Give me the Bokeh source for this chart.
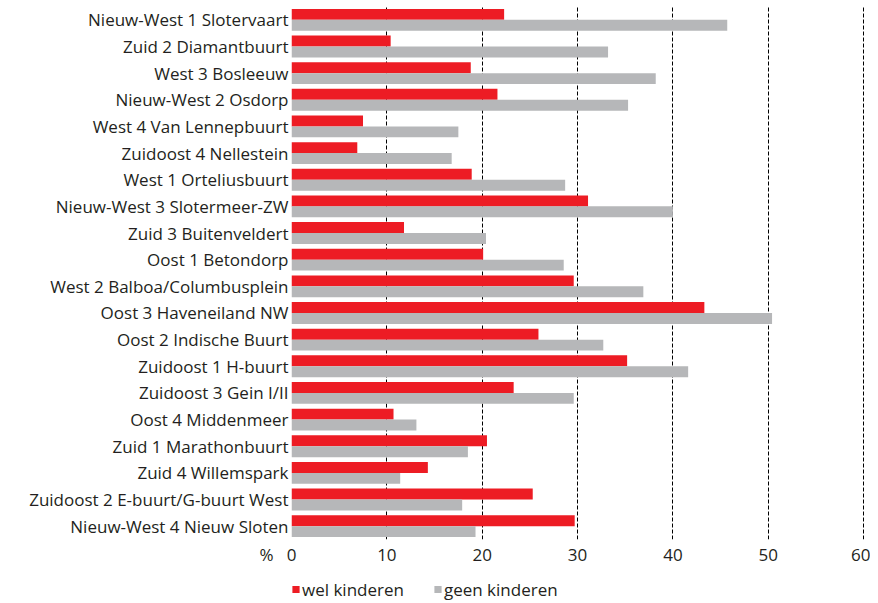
from bokeh.plotting import figure
from bokeh.layouts import column
from bokeh.models import FactorRange, Range1d, FixedTicker, Legend, LegendItem, Title, ColumnDataSource
from bokeh.transform import dodge
from bokeh.embed import file_html
from bokeh.resources import INLINE

categories = [
    "Nieuw-West 1 Slotervaart", "Zuid 2 Diamantbuurt", "West 3 Bosleeuw",
    "Nieuw-West 2 Osdorp", "West 4 Van Lennepbuurt", "Zuidoost 4 Nellestein",
    "West 1 Orteliusbuurt", "Nieuw-West 3 Slotermeer-ZW", "Zuid 3 Buitenveldert",
    "Oost 1 Betondorp", "West 2 Balboa/Columbusplein", "Oost 3 Haveneiland NW",
    "Oost 2 Indische Buurt", "Zuidoost 1 H-buurt", "Zuidoost 3 Gein I/II",
    "Oost 4 Middenmeer", "Zuid 1 Marathonbuurt", "Zuid 4 Willemspark",
    "Zuidoost 2 E-buurt/G-buurt West", "Nieuw-West 4 Nieuw Sloten",
]
wel_kinderen = [22.3, 10.4, 18.8, 21.6, 7.5, 6.9, 18.9, 31.1, 11.8, 20.1,
                29.6, 43.3, 25.9, 35.2, 23.3, 10.7, 20.5, 14.3, 25.3, 29.7]
geen_kinderen = [45.7, 33.2, 38.2, 35.3, 17.5, 16.8, 28.7, 40.0, 20.4, 28.55,
                 36.9, 50.4, 32.7, 41.6, 29.6, 13.1, 18.5, 11.4, 17.9, 19.3]
x_ticks = [0, 10, 20, 30, 40, 50, 60]
series_labels = ["wel kinderen", "geen kinderen"]
unit_label = "%"

RED = "#ED1C24"
GREY = "#B6B7B9"
TEXT = "#231F20"
FONT = "Open Sans"
FS = "17px"

src = ColumnDataSource(dict(cat=categories, wel=wel_kinderen, geen=geen_kinderen))

p = figure(
    width=870, height=576, output_backend="svg", toolbar_location=None,
    y_range=FactorRange(*list(reversed(categories))),
    x_range=Range1d(0, 60.2),
    min_border_left=290, min_border_right=5, min_border_top=6, min_border_bottom=37,
)
p.outline_line_color = None

r1 = p.hbar(y=dodge("cat", 0.205, range=p.y_range), right="wel", left=0, height=0.41,
            source=src, fill_color=RED, line_color=None)
r2 = p.hbar(y=dodge("cat", -0.205, range=p.y_range), right="geen", left=0, height=0.41,
            source=src, fill_color=GREY, line_color=None)

p.xaxis.ticker = FixedTicker(ticks=x_ticks)
p.xgrid.ticker = FixedTicker(ticks=x_ticks)
p.xgrid.grid_line_color = "black"
p.xgrid.grid_line_dash = "4 2"
p.xgrid.grid_line_width = 1
p.ygrid.grid_line_color = None

for ax in (p.xaxis[0], p.yaxis[0]):
    ax.axis_line_color = None
    ax.major_tick_line_color = None
    ax.minor_tick_line_color = None
    ax.major_label_text_font = FONT
    ax.major_label_text_font_size = FS
    ax.major_label_text_color = TEXT
p.yaxis.major_label_standoff = -3
p.xaxis.major_label_standoff = 3

pct = Title(text=unit_label, align="left", offset=-32, standoff=-42, vertical_align="top",
            text_font=FONT, text_font_size=FS, text_font_style="normal", text_color=TEXT)
p.add_layout(pct, "below")

# legend strip below the chart
q = figure(
    width=870, height=26, output_backend="svg", toolbar_location=None,
    x_range=Range1d(0, 1), y_range=Range1d(0, 1),
    min_border_left=291, min_border_right=5, min_border_top=0, min_border_bottom=0,
)
q.outline_line_color = None
q.axis.visible = False
q.grid.visible = False
lr1 = q.hbar(y=[-1], right=[0], left=0, height=0.5, fill_color=RED, line_color=None)
lr2 = q.hbar(y=[-1], right=[0], left=0, height=0.5, fill_color=GREY, line_color=None)
legend = Legend(items=[LegendItem(label=series_labels[0], renderers=[lr1]),
                       LegendItem(label=series_labels[1], renderers=[lr2])],
                orientation="horizontal", location="left",
                glyph_width=9, glyph_height=9, label_standoff=2, spacing=29,
                padding=0, margin=0, border_line_color=None,
                label_text_font=FONT, label_text_font_size=FS,
                label_text_color=TEXT, background_fill_alpha=0)
q.add_layout(legend)

layout = column(p, q, spacing=0)
open("out.html", "w").write(file_html(layout, INLINE))
